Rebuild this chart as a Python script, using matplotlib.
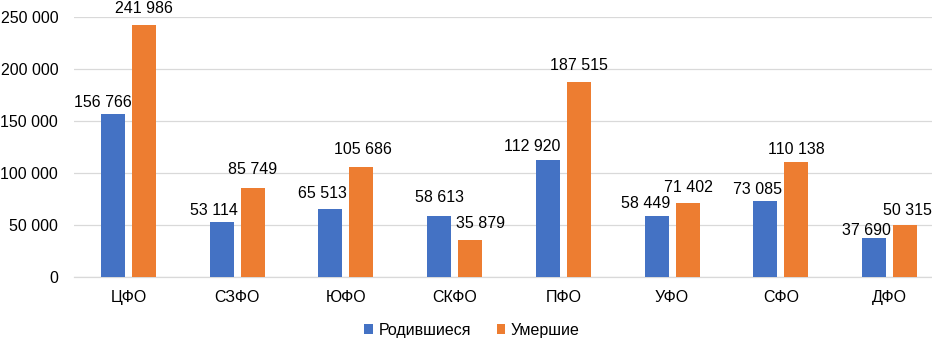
import matplotlib
matplotlib.use("Agg")
import matplotlib.pyplot as plt
import numpy as np
from matplotlib.ticker import FuncFormatter

categories = ["ЦФО", "СЗФО", "ЮФО", "СКФО", "ПФО", "УФО", "СФО", "ДФО"]
born = [156766, 53114, 65513, 58613, 112920, 58449, 73085, 37690]
died = [241986, 85749, 105686, 35879, 187515, 71402, 110138, 50315]
series_names = ["Родившиеся", "Умершие"]

# label placement (pixels): horizontal shift from bar centre, height of label centre above bar top
born_label_dx = [-10.5, -8, -8.5, 0, -16, -10.5, -7.5, -7.5]
born_label_dy = [13, 13, 17, 19.5, 14.5, 14, 12.5, 9]
died_label_dx = [0, 0, 1, 10, 0.5, 1, 0, 2.5]
died_label_dy = [18, 19.5, 19, 17.5, 18, 17, 14, 16]

plt.rcParams['font.family'] = ['Liberation Sans', 'DejaVu Sans']
FS = 11.5

fig = plt.figure(figsize=(9.32, 3.38), dpi=100)
ax = fig.add_axes([74.2 / 932, 1 - 277.3 / 338, 869.6 / 932, (277.3 - 16.7) / 338])

x = np.arange(len(categories))
w = 0.22
off = 0.1426
blue = "#4472C4"
orange = "#ED7D31"
b1 = ax.bar(x - off, born, w, color=blue, label=series_names[0], zorder=3)
b2 = ax.bar(x + off, died, w, color=orange, label=series_names[1], zorder=3)

fmt = lambda v: f"{int(v):,}".replace(",", " ")
cap_half = FS * 100 / 72 * 0.716 / 2
for rects, vals, dxs, dys in ((b1, born, born_label_dx, born_label_dy),
                              (b2, died, died_label_dx, died_label_dy)):
    for r, v, dx, dy in zip(rects, vals, dxs, dys):
        ax.annotate(fmt(v), xy=(r.get_x() + r.get_width() / 2, v),
                    xytext=(dx, dy - cap_half), textcoords="offset pixels",
                    ha="center", va="baseline", fontsize=FS, color="#000000",
                    zorder=4, annotation_clip=False)

ax.set_ylim(0, 250000)
ax.set_xlim(-0.5, len(categories) - 0.5)
ax.set_yticks(np.arange(0, 250001, 50000))
ax.yaxis.set_major_formatter(FuncFormatter(lambda v, p: fmt(v)))
ax.set_xticks(x)
ax.set_xticklabels(categories)
ax.tick_params(axis="both", length=0, labelsize=FS, colors="#000000")
ax.tick_params(axis="x", pad=9)
ax.tick_params(axis="y", pad=11.5)
ax.grid(axis="y", color="#D9D9D9", linewidth=0.9, zorder=0)
for s in ["top", "right", "left"]:
    ax.spines[s].set_visible(False)
ax.spines["bottom"].set_color("#D9D9D9")
ax.spines["bottom"].set_linewidth(0.9)

fig.legend(handles=[b1, b2], labels=series_names, loc="center",
           bbox_to_anchor=(472 / 932, 1 - 330 / 338), ncol=2, frameon=False, fontsize=FS,
           handlelength=0.55, handleheight=0.55, columnspacing=1.6, handletextpad=0.35,
           borderpad=0, borderaxespad=0)

fig.savefig("out.png", dpi=100)
